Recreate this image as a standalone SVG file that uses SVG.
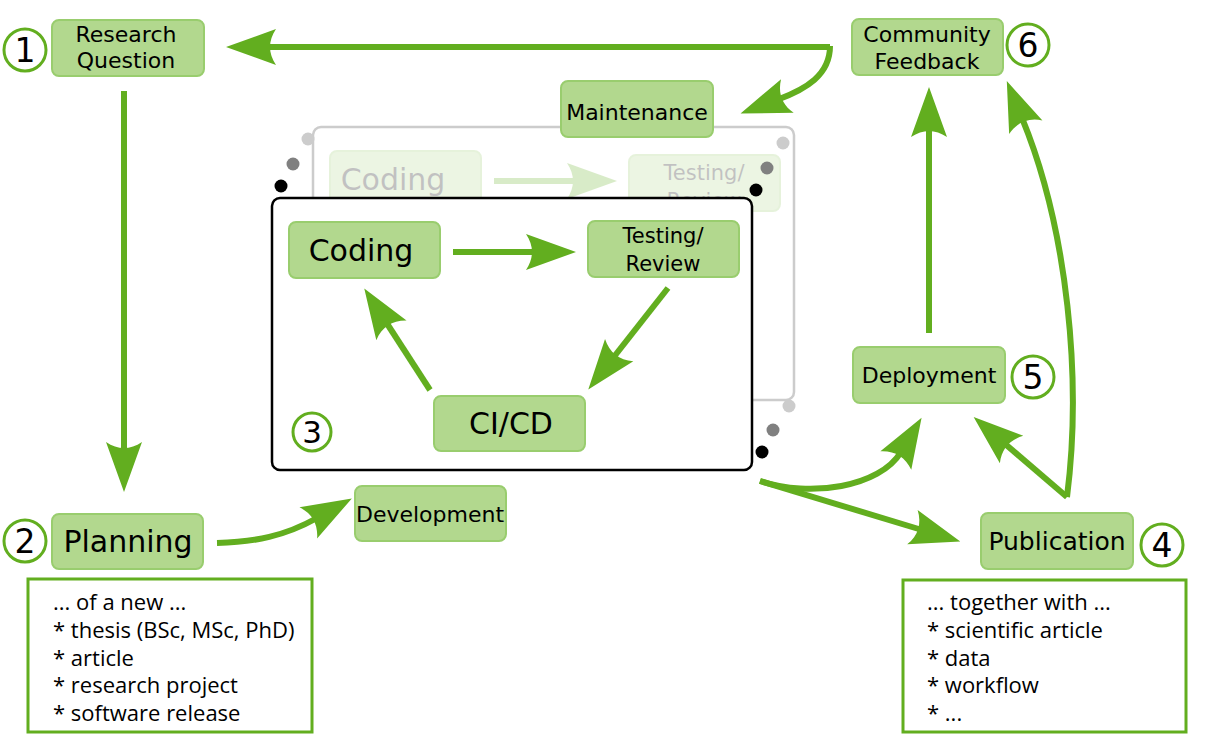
<svg xmlns="http://www.w3.org/2000/svg" width="1208" height="744" viewBox="0 0 1208 744">
<defs>
<marker id="ah" markerUnits="userSpaceOnUse" markerWidth="60" markerHeight="44" viewBox="-12 -22 60 44" refX="0" refY="0" orient="auto" overflow="visible">
<path d="M40,0 L-10,-18 C-2,-6 -2,6 -10,18 Z" fill="#62ae1f"/>
</marker>
<style>
.node rect{fill:#b2d88e;stroke:#99cd6e;stroke-width:2}
.lbl{font-family:"DejaVu Sans",sans-serif;fill:#000;text-anchor:middle;font-size:22px}
.big{font-size:30px}
.mid{font-size:21px}
.pub{font-size:25px}
.num circle{fill:#fff;stroke:#62ae1f;stroke-width:3}
.num text{font-family:"DejaVu Sans",sans-serif;font-size:33px;text-anchor:middle;fill:#000}
.num .small{font-size:31px}
.conn path{stroke:#62ae1f;stroke-width:6;fill:none;marker-end:url(#ah)}
.list rect{fill:#fff;stroke:#62ae1f;stroke-width:3}
.list text{font-family:"Open Sans","Noto Sans",sans-serif;font-size:22px;fill:#000}
</style>
</defs>
<rect width="1208" height="744" fill="#fff"/>

<!-- ghost back layer -->
<g id="ghost-layer">
<rect x="313" y="127" width="481" height="273" rx="8" fill="#fff" stroke="#cccccc" stroke-width="2.5"/>
<g opacity="0.24">
<rect x="330" y="151" width="151" height="56" rx="7" fill="#b2d88e" stroke="#99cd6e" stroke-width="2"/>
<text class="lbl big" x="393" y="190">Coding</text>
<rect x="629" y="155" width="151" height="56" rx="7" fill="#b2d88e" stroke="#99cd6e" stroke-width="2"/>
<text class="lbl mid" x="704" y="180">Testing/</text>
<text class="lbl mid" x="704" y="208">Review</text>
<path d="M494,181 L577,181" stroke="#62ae1f" stroke-width="6" fill="none" marker-end="url(#ah)"/>
</g>
</g>
<g id="stack-dots">
<circle cx="308" cy="139" r="6.5" fill="#cccccc"/>
<circle cx="783" cy="143" r="6.5" fill="#cccccc"/>
<circle cx="789" cy="406" r="6.5" fill="#cccccc"/>
<circle cx="293" cy="164" r="6.5" fill="#808080"/>
<circle cx="767" cy="168" r="6.5" fill="#808080"/>
<circle cx="773" cy="430" r="6.5" fill="#808080"/>
</g>

<!-- front development box -->
<g id="dev-box">
<rect x="272" y="198" width="480" height="272" rx="8" fill="#fff" stroke="#000" stroke-width="2.5"/>
<circle cx="281" cy="186" r="6.5" fill="#000"/>
<circle cx="756" cy="190" r="6.5" fill="#000"/>
<circle cx="762" cy="452" r="6.5" fill="#000"/>
</g>

<g id="research-question" class="node">
<rect x="52" y="20" width="152" height="56" rx="7"/>
<text class="lbl" x="126" y="42">Research</text>
<text class="lbl" x="126" y="68">Question</text>
</g>
<g id="num1" class="num"><circle cx="25" cy="50" r="21"/><text x="25" y="62">1</text></g>

<g id="community-feedback" class="node">
<rect x="852" y="19" width="151" height="56" rx="7"/>
<text class="lbl" x="927" y="42">Community</text>
<text class="lbl" x="927" y="69">Feedback</text>
</g>
<g id="num6" class="num"><circle cx="1028" cy="45" r="21"/><text x="1028" y="57">6</text></g>

<g id="maintenance" class="node">
<rect x="561" y="81" width="152" height="56" rx="7"/>
<text class="lbl" x="637" y="120">Maintenance</text>
</g>

<g id="coding" class="node">
<rect x="289" y="222" width="151" height="56" rx="7"/>
<text class="lbl big" x="361" y="261">Coding</text>
</g>
<g id="testing-review" class="node">
<rect x="588" y="221" width="151" height="56" rx="7"/>
<text class="lbl mid" x="663" y="243">Testing/</text>
<text class="lbl mid" x="663" y="271">Review</text>
</g>
<g id="cicd" class="node">
<rect x="434" y="396" width="151" height="55" rx="7"/>
<text class="lbl big" x="511" y="434">CI/CD</text>
</g>
<g id="num3" class="num"><circle cx="312" cy="432" r="19"/><text class="small" x="312" y="443">3</text></g>

<g id="development" class="node">
<rect x="355" y="486" width="151" height="55" rx="7"/>
<text class="lbl" x="430" y="522">Development</text>
</g>

<g id="planning" class="node">
<rect x="52" y="514" width="151" height="55" rx="7"/>
<text class="lbl big" x="128" y="552">Planning</text>
</g>
<g id="num2" class="num"><circle cx="25" cy="541" r="21"/><text x="25" y="553">2</text></g>

<g id="planning-list" class="list">
<rect x="28" y="579" width="284" height="153"/>
<text x="53" y="610">... of a new ...</text>
<text x="53" y="638">* thesis (BSc, MSc, PhD)</text>
<text x="53" y="666">* article</text>
<text x="53" y="693">* research project</text>
<text x="53" y="721">* software release</text>
</g>

<g id="deployment" class="node">
<rect x="853" y="347" width="152" height="56" rx="7"/>
<text class="lbl" x="929" y="383">Deployment</text>
</g>
<g id="num5" class="num"><circle cx="1033" cy="377" r="21"/><text x="1033" y="389">5</text></g>

<g id="publication" class="node">
<rect x="981" y="513" width="152" height="56" rx="7"/>
<text class="lbl pub" x="1057" y="550">Publication</text>
</g>
<g id="num4" class="num"><circle cx="1162" cy="545" r="21"/><text x="1162" y="557">4</text></g>

<g id="publication-list" class="list">
<rect x="903" y="580" width="283" height="152"/>
<text x="927" y="610">... together with ...</text>
<text x="927" y="638">* scientific article</text>
<text x="927" y="666">* data</text>
<text x="927" y="693">* workflow</text>
<text x="927" y="721">* ...</text>
</g>

<g id="connectors" class="conn">
<path d="M830,47 L266,47"/>
<path d="M830,46 C830,75 806,89 778,99.5"/>
<path d="M124,91 L124,452"/>
<path d="M217,543 C255,542 285,536 317,518"/>
<path d="M453,252 L536,252"/>
<path d="M668,288 L613,358"/>
<path d="M430,390 L386,322"/>
<path d="M929,333 L929,127"/>
<path d="M1067,497 C1082,380 1068,230 1022,118"/>
<path d="M1067,497 L1004,443"/>
<path d="M760,481 C810,498 880,487 901,452"/>
<path d="M760,481 L922,530"/>
</g>
</svg>
